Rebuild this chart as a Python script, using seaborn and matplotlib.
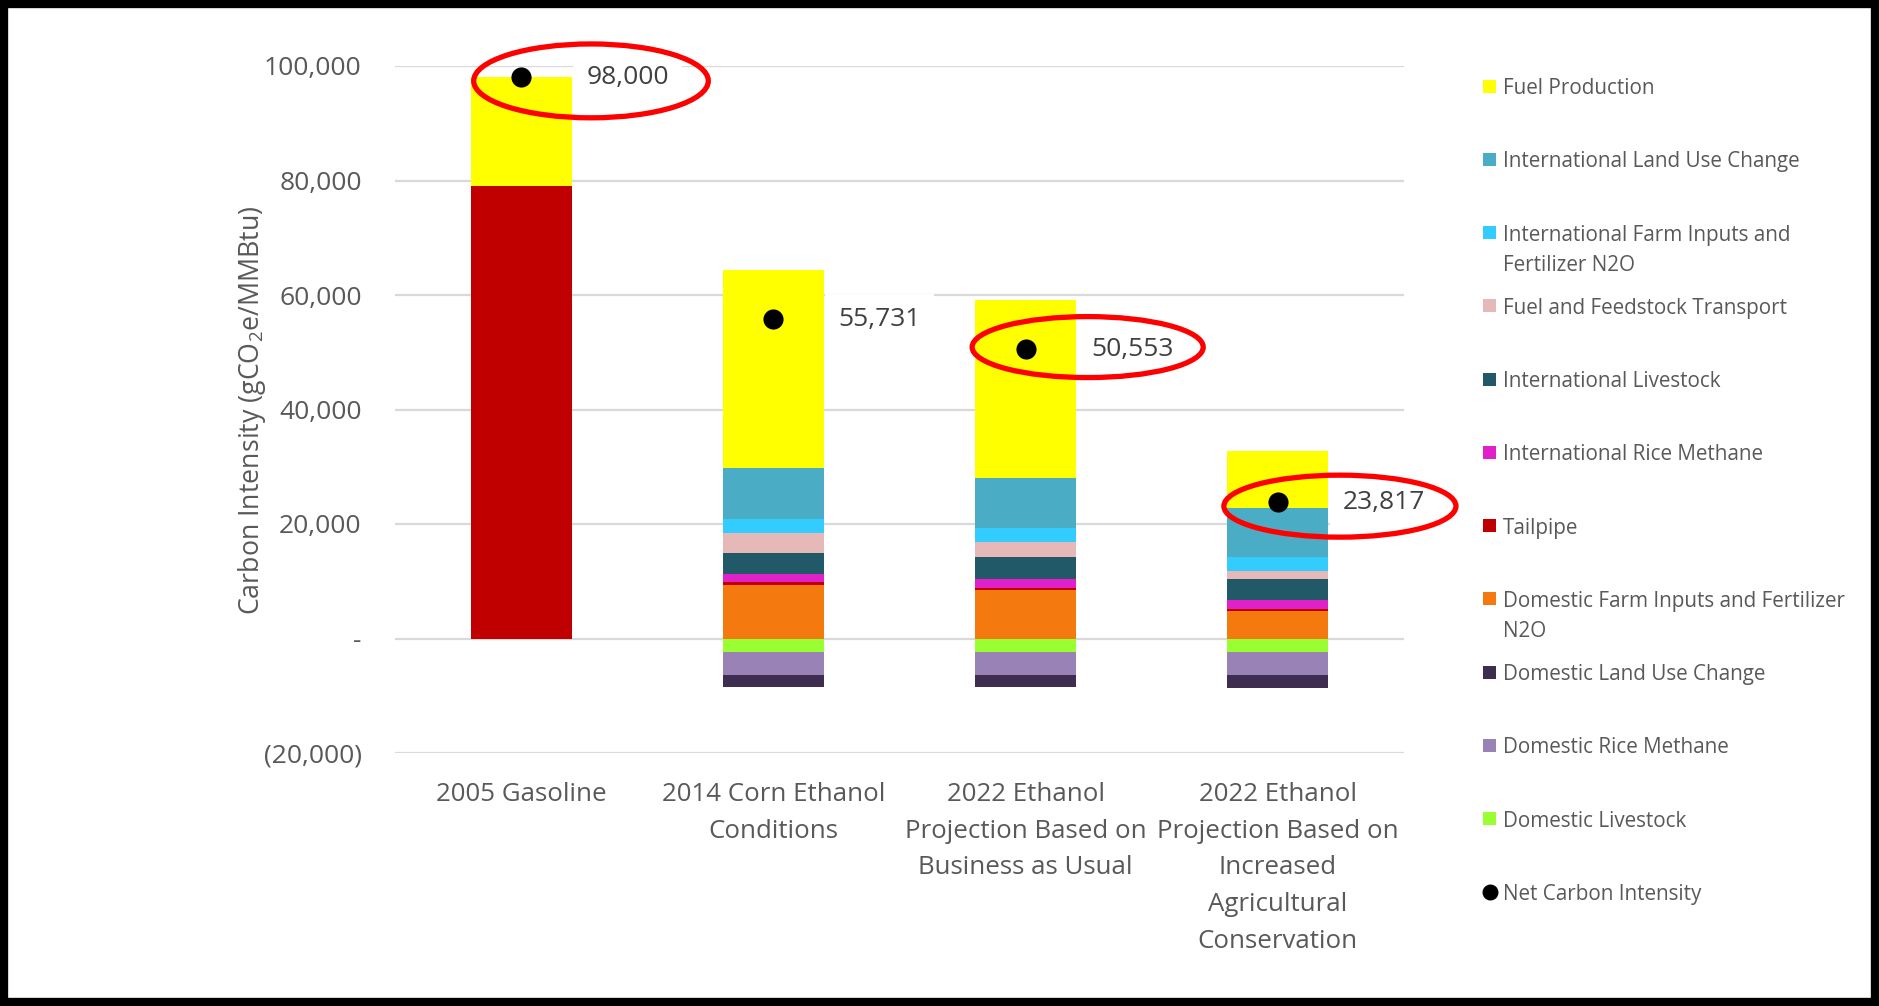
import numpy as np
import pandas as pd
import matplotlib
matplotlib.use("Agg")
import matplotlib.pyplot as plt
import seaborn as sns
from matplotlib.patches import Ellipse, Rectangle
from matplotlib.lines import Line2D
from matplotlib.ticker import FuncFormatter

# ---------------- data ----------------
categories = ["2005 Gasoline",
              "2014 Corn Ethanol\nConditions",
              "2022 Ethanol\nProjection Based on\nBusiness as Usual",
              "2022 Ethanol\nProjection Based on\nIncreased\nAgricultural\nConservation"]

dom_farm_inputs = [0, 9300, 8500, 4800]
tailpipe = [79000, 600, 300, 300]
intl_rice_methane = [0, 1400, 1630, 1590]
intl_livestock = [0, 3650, 3770, 3790]
fuel_transport = [0, 3500, 2690, 1280]
intl_farm_inputs = [0, 2500, 2450, 2440]
intl_land_use = [0, 8750, 8730, 8630]
fuel_production = [19000, 34700, 31130, 9890]

dom_livestock = [0, -2390, -2390, -2390]
dom_rice_methane = [0, -4020, -4020, -4070]
dom_land_use = [0, -2030, -2030, -2150]

net_intensity = [98000, 55731, 50553, 23817]

legend_labels = ["Fuel Production", "International Land Use Change",
                 "International Farm Inputs and\nFertilizer N2O",
                 "Fuel and Feedstock Transport", "International Livestock",
                 "International Rice Methane", "Tailpipe",
                 "Domestic Farm Inputs and Fertilizer\nN2O",
                 "Domestic Land Use Change", "Domestic Rice Methane",
                 "Domestic Livestock", "Net Carbon Intensity"]

# ---------------- style ----------------
colors = {
    "Fuel Production": "#FFFF00",
    "International Land Use Change": "#4BACC6",
    "International Farm Inputs and\nFertilizer N2O": "#33CCFF",
    "Fuel and Feedstock Transport": "#E6B9B8",
    "International Livestock": "#215968",
    "International Rice Methane": "#E020C8",
    "Tailpipe": "#C00000",
    "Domestic Farm Inputs and Fertilizer\nN2O": "#F47A10",
    "Domestic Land Use Change": "#3F2D4F",
    "Domestic Rice Methane": "#9882B6",
    "Domestic Livestock": "#99FF33",
    "Net Carbon Intensity": "#000000",
}

sns.set_theme(style="white")
plt.rcParams['font.family'] = ['Open Sans', 'DejaVu Sans']
plt.rcParams['mathtext.fontset'] = 'custom'
plt.rcParams['mathtext.rm'] = 'Open Sans'
plt.rcParams['mathtext.it'] = 'Open Sans:italic'
plt.rcParams['mathtext.bf'] = 'Open Sans:bold'

TXT = "#595959"
W, H = 1879, 1006
fig = plt.figure(figsize=(W / 100, H / 100), dpi=100)
fig.patch.set_facecolor("white")
ax = fig.add_axes([395 / W, 1 - 753 / H, 1009 / W, 687 / H])

pos_series = [
    ("Domestic Farm Inputs and Fertilizer\nN2O", dom_farm_inputs),
    ("Tailpipe", tailpipe),
    ("International Rice Methane", intl_rice_methane),
    ("International Livestock", intl_livestock),
    ("Fuel and Feedstock Transport", fuel_transport),
    ("International Farm Inputs and\nFertilizer N2O", intl_farm_inputs),
    ("International Land Use Change", intl_land_use),
    ("Fuel Production", fuel_production),
]
neg_series = [
    ("Domestic Livestock", dom_livestock),
    ("Domestic Rice Methane", dom_rice_methane),
    ("Domestic Land Use Change", dom_land_use),
]

for series in (pos_series, neg_series):
    bottom = np.zeros(len(categories))
    for name, vals in series:
        vals = np.asarray(vals, dtype=float)
        df = pd.DataFrame({"cat": categories, "val": vals})
        sns.barplot(data=df, x="cat", y="val", order=categories,
                    color=colors[name], saturation=1, width=0.4,
                    errorbar=None, bottom=bottom.copy(), linewidth=0,
                    ax=ax, zorder=2)
        bottom += vals

# net carbon intensity dots
sns.stripplot(x=categories, y=net_intensity, order=categories, jitter=False,
              color="black", size=14.5, linewidth=0, ax=ax, zorder=6)

for i, v in enumerate(net_intensity):
    ax.annotate(f"{v:,}", xy=(i, v), xytext=(47, 0), textcoords="offset points",
                ha="left", va="center", fontsize=19, color="#404040", zorder=7,
                bbox=dict(boxstyle="square,pad=0.5", fc="white", ec="none"))

# red highlight ellipses (annotations around selected labels)
highlighted = [0, 2, 3]
ell_dx = [0.277, 0.246, 0.246]
ell_dy = [-600, 350, -700]
ell_w = [0.93, 0.916, 0.92]
ell_h = [12900, 10650, 10830]
for k, i in enumerate(highlighted):
    e = Ellipse((i + ell_dx[k], net_intensity[i] + ell_dy[k]), ell_w[k], ell_h[k],
                transform=ax.transData, fill=False, ec="#FF0000", lw=3.8,
                zorder=10, clip_on=False)
    ax.add_patch(e)

# axes formatting
ax.set_xlim(-0.5, 3.5)
ax.set_ylim(-20000, 100000)
ax.set_yticks(np.arange(-20000, 100001, 20000))

def fmt(v, pos):
    if v == 0:
        return "-"
    if v < 0:
        return f"({abs(v):,.0f})"
    return f"{v:,.0f}"

ax.yaxis.set_major_formatter(FuncFormatter(fmt))
ax.tick_params(axis="y", length=0, pad=24, labelsize=19, labelcolor=TXT)
ax.tick_params(axis="x", length=0, pad=21, labelsize=18.6, labelcolor=TXT)
for lab in ax.get_xticklabels():
    lab.set_linespacing(1.61)
ax.set_xlabel("")
ax.set_ylabel("Carbon Intensity (gCO$_2$e/MMBtu)", fontsize=19.3, color=TXT)
ax.yaxis.label.set_va("center")
ax.yaxis.set_label_coords(-0.1417, 0.499)
ax.yaxis.grid(True, color="#D9D9D9", linewidth=1.6, zorder=0)
ax.xaxis.grid(False)
ax.set_axisbelow(True)
for s in ax.spines.values():
    s.set_visible(False)
ax.set_facecolor("none")

# legend (Excel-style, evenly spaced entries; wrapped lines hang below)
for i, name in enumerate(legend_labels):
    ypx = 86 + 73.27 * i
    yf = 1 - ypx / H
    if name == "Net Carbon Intensity":
        fig.add_artist(Line2D([1489.5 / W], [yf], marker="o", ms=10.5, color="black",
                              linestyle="none", transform=fig.transFigure))
    else:
        fig.add_artist(Rectangle((1483 / W, yf - 6.5 / H), 13 / W, 13 / H,
                                 transform=fig.transFigure, fc=colors[name], ec="none"))
    for k, line in enumerate(name.split("\n")):
        fig.text(1503 / W, 1 - (ypx + 30 * k) / H, line, ha="left",
                 va="center_baseline", fontsize=14.9, color=TXT)

# outer black frame
fig.add_artist(Rectangle((4 / W, 4 / H), 1 - 8 / W, 1 - 8 / H, transform=fig.transFigure,
                         fill=False, ec="black", lw=6))

fig.savefig("out.png", dpi=100, facecolor="white")
